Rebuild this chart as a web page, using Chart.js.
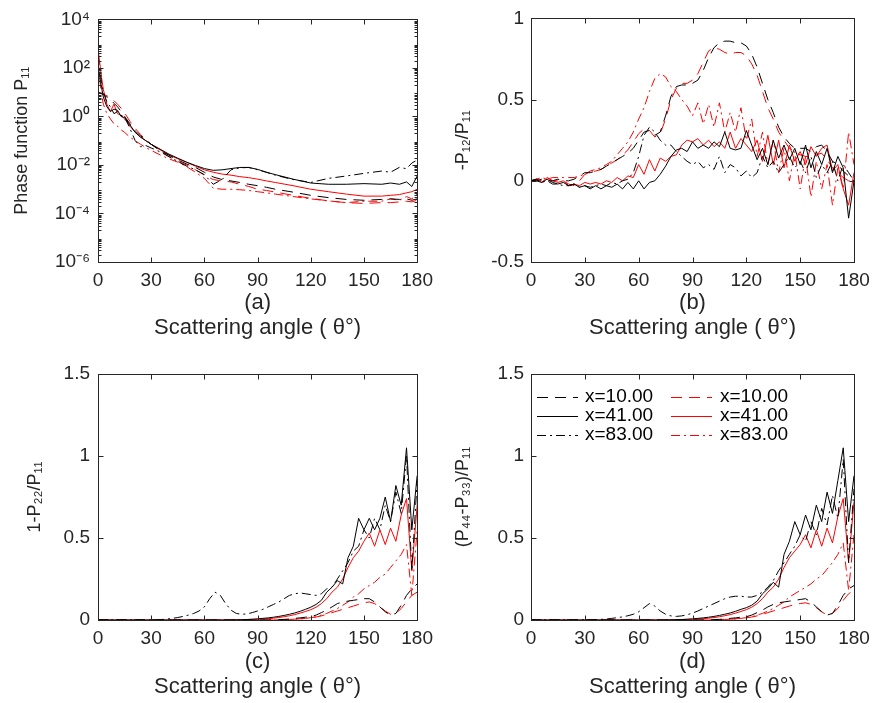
<!DOCTYPE html>
<html>
<head>
<meta charset="utf-8">
<script src="https://cdn.jsdelivr.net/npm/chart.js@4.4.1/dist/chart.umd.min.js"></script>
<style>
  html, body { margin: 0; padding: 0; background: #fff; }
  #wrap { position: relative; width: 878px; height: 703px; }
  canvas { position: absolute; }
</style>
</head>
<body>
<div id="wrap">
  <canvas id="chartA" width="440" height="340" style="left:0;top:0"></canvas>
  <canvas id="chartB" width="438" height="340" style="left:440px;top:0"></canvas>
  <canvas id="chartC" width="440" height="363" style="left:0;top:340px"></canvas>
  <canvas id="chartD" width="438" height="363" style="left:440px;top:340px"></canvas>
</div>
<script>
// ---- data ----
const seriesLabels = ["x=10.00", "x=41.00", "x=83.00"];
const xTicks = [0, 30, 60, 90, 120, 150, 180];
const logTicksA = [1e-6, 1e-4, 1e-2, 1, 1e2, 1e4];
const ticksB = [-0.5, 0, 0.5, 1];
const ticksCD = [0, 0.5, 1, 1.5];

// angles for panel (a)
const anglesA = [0, 1, 2, 3, 5, 7, 9, 11, 13, 15, 18, 21, 24, 27, 30, 35, 40, 45, 50, 55,
  60, 65, 70, 75, 80, 85, 90, 95, 100, 110, 120, 130, 140, 150, 160, 165, 170, 174, 177, 180];
// angles for panels (b), (c), (d)
const angles = [0, 3, 6, 9, 12, 15, 18, 21, 24, 27,
  30, 33, 36, 39, 42, 45, 48, 51, 54, 57,
  60, 63, 66, 69, 72, 75, 78, 81, 84, 87,
  90, 93, 96, 99, 102, 105, 108, 111, 114, 117,
  120, 123, 126, 129, 132, 135, 138, 141, 144, 147,
  150, 153, 156, 159, 162, 165, 168, 171, 174, 177,
  180];

// (a) phase function P11
const aBlack10 = [1.0e1, 9.5, 8.9, 7.9, 6.3, 5.0, 3.5, 2.5, 1.6, 1.0, 5.0e-1, 2.5e-1, 1.6e-1, 1.1e-1, 7.1e-2, 4.0e-2, 2.5e-2, 1.6e-2, 1.1e-2, 7.9e-3,
  5.0e-3, 3.2e-3, 2.5e-3, 2.2e-3, 1.9e-3, 1.6e-3, 1.4e-3, 1.2e-3, 1.0e-3, 7.6e-4, 5.6e-4, 4.5e-4, 3.8e-4, 3.5e-4, 3.8e-4, 4.0e-4, 3.8e-4, 4.0e-4, 3.5e-4, 4.0e-4];
const aBlack41 = [1.3e2, 4.0e1, 1.6e1, 6.3, 2.5, 1.6, 2.0, 1.8, 1.0, 8.9e-1, 4.5e-1, 2.2e-1, 1.4e-1, 1.0e-1, 7.1e-2, 4.5e-2, 2.8e-2, 1.9e-2, 1.3e-2, 9.5e-3,
  7.1e-3, 6.0e-3, 6.3e-3, 7.1e-3, 7.9e-3, 7.9e-3, 6.6e-3, 5.0e-3, 4.0e-3, 2.6e-3, 1.8e-3, 1.6e-3, 1.6e-3, 1.7e-3, 1.6e-3, 1.8e-3, 1.6e-3, 2.0e-3, 1.3e-3, 3.5e-3];
const aBlack83 = [3.2e2, 7.9e1, 2.5e1, 1.0e1, 4.0, 2.5, 1.3, 1.6, 1.1, 1.0, 3.2e-1, 1.0e-1, 5.6e-2, 6.3e-2, 5.0e-2, 3.5e-2, 2.2e-2, 1.4e-2, 8.9e-3, 6.3e-3,
  4.0e-3, 1.6e-3, 2.5e-3, 6.3e-3, 7.6e-3, 7.9e-3, 6.3e-3, 5.0e-3, 3.8e-3, 2.5e-3, 1.9e-3, 2.8e-3, 3.5e-3, 4.5e-3, 5.6e-3, 5.0e-3, 8.0e-3, 7.0e-3, 1.2e-2, 1.6e-2];
const aRed10 = [1.0e1, 9.3, 8.9, 8.3, 7.1, 6.0, 4.5, 3.2, 2.2, 1.4, 6.3e-1, 3.2e-1, 1.8e-1, 1.1e-1, 7.1e-2, 3.8e-2, 2.2e-2, 1.4e-2, 1.0e-2, 6.3e-3,
  3.8e-3, 2.5e-3, 2.2e-3, 2.0e-3, 1.6e-3, 1.3e-3, 1.0e-3, 8.9e-4, 7.6e-4, 5.6e-4, 4.2e-4, 3.3e-4, 2.8e-4, 2.6e-4, 2.8e-4, 2.8e-4, 3.0e-4, 3.2e-4, 3.0e-4, 3.5e-4];
const aRed41 = [6.3e2, 1.6e2, 4.0e1, 1.3e1, 3.2, 1.6, 3.2, 1.3, 1.1, 7.9e-1, 4.0e-1, 2.2e-1, 1.4e-1, 1.0e-1, 7.1e-2, 4.2e-2, 2.6e-2, 1.8e-2, 1.3e-2, 8.9e-3,
  6.3e-3, 5.0e-3, 4.2e-3, 3.8e-3, 3.3e-3, 3.0e-3, 2.6e-3, 2.2e-3, 1.9e-3, 1.4e-3, 1.0e-3, 7.9e-4, 6.3e-4, 5.2e-4, 5.2e-4, 5.6e-4, 6.0e-4, 7.1e-4, 7.9e-4, 1.0e-3];
const aRed83 = [2.0e2, 3.2e1, 7.9, 3.2, 1.3, 7.9e-1, 5.0e-1, 4.0e-1, 2.8e-1, 2.2e-1, 1.4e-1, 1.0e-1, 7.1e-2, 5.2e-2, 4.0e-2, 2.6e-2, 1.8e-2, 1.3e-2, 8.5e-3, 5.0e-3,
  2.8e-3, 1.1e-3, 1.0e-3, 1.0e-3, 9.5e-4, 8.9e-4, 7.9e-4, 7.1e-4, 6.3e-4, 5.0e-4, 4.0e-4, 3.3e-4, 2.8e-4, 3.2e-4, 3.2e-4, 4.0e-4, 3.5e-4, 5.0e-4, 4.0e-4, 6.3e-4];

// (b) -P12/P11
const bBlack10 = [0, 0, 0.01, 0, 0, 0.01, 0, 0, 0.01, 0.03,
  0.05, 0.05, 0.06, 0.07, 0.09, 0.11, 0.13, 0.15, 0.17, 0.2,
  0.25, 0.3, 0.31, 0.28, 0.3, 0.4, 0.52, 0.58, 0.59, 0.59,
  0.6, 0.62, 0.68, 0.76, 0.82, 0.85, 0.86, 0.86, 0.85, 0.85,
  0.83, 0.78, 0.7, 0.6, 0.5, 0.42, 0.33, 0.27, 0.23, 0.2,
  0.2, 0.2, 0.18, 0.21, 0.22, 0.18, 0.12, 0.1, 0.06, 0.03,
  0];
const bBlack41 = [0, 0, -0.01, 0.01, -0.01, -0.02, -0.01, -0.03, -0.02, -0.04,
  -0.03, -0.05, -0.03, -0.05, -0.03, -0.04, -0.02, -0.05, -0.01, -0.05,
  0, -0.05, -0.01, 0, 0.04, 0.09, 0.15, 0.19, 0.2, 0.18,
  0.24, 0.2, 0.22, 0.2, 0.24, 0.21, 0.3, 0.2, 0.19, 0.2,
  0.31, 0.22, 0.13, 0.2, 0.1, 0.25, 0.14, 0.22, 0.13, 0.2,
  0.1, 0.22, 0.08, 0.18, 0.1, 0.2, 0.05, 0.15, 0.08, -0.23,
  0];
const bBlack83 = [0, 0.01, -0.01, 0, -0.02, -0.02, -0.03, -0.03, -0.02, -0.04,
  -0.03, -0.04, -0.03, -0.02, -0.03, -0.01, -0.02, 0, 0.01, 0.05,
  0.15, 0.28, 0.33, 0.3, 0.25, 0.22, 0.22, 0.18, 0.15, 0.12,
  0.1, 0.12, 0.08, 0.1, 0.07, 0.15, 0.05, 0.1, 0.08, 0.03,
  0.06, 0.02, 0.05, 0.15, 0.08, 0.12, 0.05, 0.1, 0.15, 0.08,
  0.12, 0.05, 0.15, 0.02, 0.1, 0.05, 0.12, 0, 0.1, 0.05,
  0];
const bRed10 = [0, 0.01, 0, 0.02, 0, 0, 0, -0.02, -0.03, 0,
  0.04, 0.05, 0.06, 0.07, 0.09, 0.11, 0.13, 0.16, 0.19, 0.24,
  0.29, 0.32, 0.31, 0.27, 0.29, 0.38, 0.5, 0.57, 0.6, 0.6,
  0.62, 0.66, 0.73, 0.8, 0.82, 0.81, 0.79, 0.78, 0.79, 0.79,
  0.77, 0.72, 0.65, 0.55, 0.45, 0.38, 0.3, 0.25, 0.2, 0.18,
  0.16, 0.15, 0.15, 0.16, 0.17, 0.13, 0.08, 0.05, 0.02, 0,
  0];
const bRed41 = [0, 0.01, -0.01, 0.02, 0, -0.01, 0, -0.03, -0.02, -0.03,
  -0.01, -0.02, -0.01, -0.02, 0, -0.01, 0.02, 0, 0.03, 0.02,
  0.1, 0.04, 0.13, 0.06, 0.14, 0.12, 0.15, 0.16, 0.22, 0.25,
  0.24, 0.26, 0.22, 0.25, 0.21, 0.24, 0.2, 0.3, 0.2, 0.26,
  0.22, 0.18, 0.25, 0.12, 0.28, 0.1, 0.25, 0.08, 0.22, 0.12,
  0.18, 0.1, 0.21, 0.15, 0.2, 0.22, 0.06, 0.1, -0.05, -0.15,
  0.05];
const bRed83 = [0, 0.01, 0.02, 0.01, 0.02, 0.02, 0.02, 0.02, 0.02, 0.03,
  0.04, 0.06, 0.07, 0.08, 0.1, 0.12, 0.16, 0.2, 0.24, 0.3,
  0.38, 0.45, 0.55, 0.63, 0.66, 0.64, 0.58, 0.55, 0.5, 0.46,
  0.4, 0.48, 0.35, 0.47, 0.33, 0.48, 0.3, 0.42, 0.3, 0.45,
  0.25, 0.38, 0.15, 0.3, 0.1, 0.25, 0.05, 0.2, 0, 0.18,
  -0.05, 0.15, -0.1, 0.12, -0.05, 0.1, -0.15, 0.08, -0.05, 0.3,
  0.1];

// (c) 1-P22/P11
const cBlack10 = [0, 0, 0, 0, 0, 0, 0, 0, 0, 0,
  0, 0, 0, 0, 0, 0, 0, 0, 0, 0,
  0, 0, 0, 0, 0, 0, 0, 0, 0, 0,
  0, 0, 0, 0, 0.002, 0.004, 0.006, 0.01, 0.013, 0.017,
  0.022, 0.03, 0.045, 0.06, 0.08, 0.1, 0.11, 0.115, 0.12, 0.125,
  0.13, 0.13, 0.11, 0.08, 0.05, 0.03, 0.04, 0.09, 0.15, 0.19,
  0.22];
const cBlack41 = [0, 0, 0, 0, 0, 0, 0, 0, 0, 0,
  0, 0, 0, 0, 0, 0, 0, 0, 0, 0,
  0, 0, 0, 0, 0, 0, 0.001, 0.002, 0.003, 0.005,
  0.007, 0.01, 0.013, 0.017, 0.022, 0.028, 0.035, 0.043, 0.053, 0.065,
  0.078, 0.095, 0.12, 0.17, 0.2, 0.24, 0.22, 0.38, 0.45, 0.62,
  0.55, 0.62, 0.55, 0.62, 0.75, 0.6, 0.82, 0.7, 1.05, 0.55,
  0.88];
const cBlack83 = [0, 0, 0, 0, 0, 0, 0, 0, 0, 0,
  0, 0, 0.003, 0.006, 0.01, 0.015, 0.022, 0.03, 0.04, 0.055,
  0.08, 0.13, 0.17, 0.15, 0.1, 0.06, 0.04, 0.035, 0.037, 0.045,
  0.055, 0.065, 0.08, 0.095, 0.11, 0.13, 0.15, 0.16, 0.165, 0.16,
  0.155, 0.15, 0.16, 0.19, 0.2, 0.25, 0.3, 0.35, 0.42, 0.45,
  0.55, 0.5, 0.62, 0.55, 0.7, 0.6, 0.78, 0.65, 1.0, 0.3,
  0.85];
const cRed10 = [0, 0, 0, 0, 0, 0, 0, 0, 0, 0,
  0, 0, 0, 0, 0, 0, 0, 0, 0, 0,
  0, 0, 0, 0, 0, 0, 0, 0, 0, 0,
  0, 0, 0, 0, 0.001, 0.002, 0.003, 0.005, 0.007, 0.01,
  0.013, 0.018, 0.025, 0.035, 0.045, 0.055, 0.065, 0.075, 0.085, 0.095,
  0.105, 0.11, 0.1, 0.08, 0.055, 0.035, 0.04, 0.07, 0.11, 0.15,
  0.17];
const cRed41 = [0, 0, 0, 0, 0, 0, 0, 0, 0, 0,
  0, 0, 0, 0, 0, 0, 0, 0, 0, 0,
  0, 0, 0, 0, 0, 0, 0.001, 0.0015, 0.002, 0.003,
  0.004, 0.006, 0.008, 0.011, 0.015, 0.02, 0.026, 0.033, 0.042, 0.052,
  0.063, 0.078, 0.1, 0.13, 0.17, 0.2, 0.25, 0.32, 0.38, 0.42,
  0.48, 0.53, 0.45, 0.55, 0.46, 0.56, 0.48, 0.64, 0.74, 0.3,
  0.7];
const cRed83 = [0, 0, 0, 0, 0, 0, 0, 0, 0, 0,
  0, 0, 0, 0, 0, 0, 0, 0, 0, 0,
  0, 0, 0, 0, 0, 0, 0, 0, 0, 0,
  0, 0, 0, 0, 0.001, 0.002, 0.003, 0.005, 0.007, 0.01,
  0.014, 0.02, 0.03, 0.04, 0.055, 0.07, 0.09, 0.11, 0.14, 0.16,
  0.19, 0.21, 0.23, 0.26, 0.28, 0.32, 0.36, 0.4, 0.46, 0.15,
  0.55];

// (d) (P44-P33)/P11
const dBlack10 = [0, 0, 0, 0, 0, 0, 0, 0, 0, 0,
  0, 0, 0, 0, 0, 0, 0, 0, 0, 0,
  0, 0, 0, 0, 0, 0, 0, 0, 0, 0,
  0, 0, 0, 0, 0.002, 0.004, 0.006, 0.01, 0.013, 0.017,
  0.02, 0.03, 0.045, 0.06, 0.08, 0.095, 0.105, 0.11, 0.115, 0.12,
  0.125, 0.13, 0.11, 0.08, 0.05, 0.03, 0.04, 0.09, 0.15, 0.19,
  0.21];
const dBlack41 = [0, 0, 0, 0, 0, 0, 0, 0, 0, 0,
  0, 0, 0, 0, 0, 0, 0, 0, 0, 0,
  0, 0, 0, 0, 0, 0, 0.001, 0.002, 0.003, 0.005,
  0.007, 0.01, 0.013, 0.017, 0.022, 0.028, 0.035, 0.043, 0.053, 0.065,
  0.075, 0.09, 0.115, 0.16, 0.19, 0.23, 0.2, 0.4, 0.48, 0.6,
  0.52, 0.64, 0.55, 0.7, 0.6, 0.78, 0.65, 0.85, 1.05, 0.6,
  0.88];
const dBlack83 = [0, 0, 0, 0, 0, 0, 0, 0, 0, 0,
  0, 0, 0.002, 0.004, 0.006, 0.01, 0.014, 0.019, 0.026, 0.035,
  0.05, 0.075, 0.1, 0.085, 0.055, 0.035, 0.025, 0.022, 0.025, 0.032,
  0.042, 0.055, 0.07, 0.085, 0.1, 0.115, 0.13, 0.14, 0.145, 0.145,
  0.14, 0.14, 0.15, 0.17, 0.2, 0.24, 0.3, 0.35, 0.4, 0.45,
  0.52, 0.48, 0.6, 0.52, 0.68, 0.58, 0.76, 0.62, 0.98, 0.35,
  0.8];
const dRed10 = [0, 0, 0, 0, 0, 0, 0, 0, 0, 0,
  0, 0, 0, 0, 0, 0, 0, 0, 0, 0,
  0, 0, 0, 0, 0, 0, 0, 0, 0, 0,
  0, 0, 0, 0, 0.001, 0.002, 0.003, 0.005, 0.007, 0.01,
  0.013, 0.018, 0.025, 0.035, 0.045, 0.055, 0.065, 0.075, 0.085, 0.095,
  0.1, 0.105, 0.095, 0.075, 0.05, 0.03, 0.04, 0.07, 0.12, 0.16,
  0.18];
const dRed41 = [0, 0, 0, 0, 0, 0, 0, 0, 0, 0,
  0, 0, 0, 0, 0, 0, 0, 0, 0, 0,
  0, 0, 0, 0, 0, 0, 0.001, 0.0015, 0.002, 0.003,
  0.004, 0.006, 0.008, 0.011, 0.015, 0.02, 0.026, 0.033, 0.042, 0.052,
  0.063, 0.078, 0.1, 0.13, 0.17, 0.2, 0.25, 0.32, 0.38, 0.42,
  0.46, 0.52, 0.44, 0.55, 0.45, 0.56, 0.47, 0.63, 0.74, 0.35,
  0.72];
const dRed83 = [0, 0, 0, 0, 0, 0, 0, 0, 0, 0,
  0, 0, 0, 0, 0, 0, 0, 0, 0, 0,
  0, 0, 0, 0, 0, 0, 0, 0, 0, 0,
  0, 0, 0, 0, 0.001, 0.002, 0.003, 0.005, 0.007, 0.01,
  0.014, 0.02, 0.03, 0.04, 0.055, 0.07, 0.09, 0.11, 0.14, 0.16,
  0.18, 0.2, 0.22, 0.25, 0.27, 0.31, 0.35, 0.4, 0.47, 0.18,
  0.52];

// ---- styling ----
const FONT = "'Liberation Sans', Arial, sans-serif";
const TEXT = "#262626";
const lineColors = ["#000000", "#ff0000"];
const dashes = [[11, 7], [], [9, 4, 2, 4]];
const xTitle = (tag) => [tag, "Scattering angle ( θ°)"];
const supMap = { "-": "⁻", "0": "⁰", "1": "¹", "2": "²", "3": "³", "4": "⁴", "5": "⁵", "6": "⁶", "7": "⁷", "8": "⁸", "9": "⁹" };

function makeSets(xs, arrs) {
    return arrs.map((arr, k) => ({
        label: seriesLabels[k % 3],
        data: xs.map((t, i) => ({ x: t, y: arr[i] })),
        borderColor: lineColors[Math.floor(k / 3)],
        borderDash: dashes[k % 3],
        borderWidth: 1,
        pointRadius: 0,
        fill: false,
        tension: 0
    }));
}

// box + inward ticks, MATLAB style
const framePlugin = {
    id: "frame",
    afterDatasetsDraw(chart) {
        const { ctx, chartArea: a, scales } = chart;
        const L = Math.round(a.left) + 0.5, R = Math.round(a.right) + 0.5;
        const T = Math.round(a.top) + 0.5, B = Math.round(a.bottom) + 0.5;
        ctx.save();
        ctx.strokeStyle = TEXT;
        ctx.lineWidth = 1;
        ctx.setLineDash([]);
        ctx.strokeRect(L, T, R - L, B - T);
        ctx.beginPath();
        scales.x.ticks.forEach(t => {
            const px = Math.round(scales.x.getPixelForValue(t.value)) + 0.5;
            ctx.moveTo(px, B); ctx.lineTo(px, B - 5);
            ctx.moveTo(px, T); ctx.lineTo(px, T + 5);
        });
        scales.y.ticks.forEach(t => {
            const py = Math.round(scales.y.getPixelForValue(t.value)) + 0.5;
            ctx.moveTo(L, py); ctx.lineTo(L + 5, py);
            ctx.moveTo(R, py); ctx.lineTo(R - 5, py);
        });
        if (scales.y.type === "logarithmic") {
            for (let e = -6; e < 4; e++) {
                for (let m = 2; m < 10; m++) {
                    const py = Math.round(scales.y.getPixelForValue(m * Math.pow(10, e))) + 0.5;
                    ctx.moveTo(L, py); ctx.lineTo(L + 3, py);
                    ctx.moveTo(R, py); ctx.lineTo(R - 3, py);
                }
            }
        }
        ctx.stroke();
        ctx.restore();
    }
};

// two-column legend inside panel (d)
const legendPlugin = {
    id: "innerLegend",
    afterDraw(chart) {
        const ctx = chart.ctx;
        const colX = [97, 231], textX = [145, 280], rowY = [57, 76, 95];
        ctx.save();
        ctx.font = "19px " + FONT;
        ctx.textBaseline = "middle";
        chart.data.datasets.forEach((ds, k) => {
            const c = Math.floor(k / 3), r = k % 3;
            ctx.strokeStyle = lineColors[c];
            ctx.lineWidth = 1;
            ctx.setLineDash(ds.borderDash);
            ctx.beginPath();
            ctx.moveTo(colX[c], rowY[r] + 0.5);
            ctx.lineTo(colX[c] + 41, rowY[r] + 0.5);
            ctx.stroke();
            ctx.fillStyle = "#000";
            ctx.fillText(ds.label, textX[c], rowY[r]);
        });
        ctx.restore();
    }
};

function makeChart(id, xs, arrs, g, extraPlugins) {
    const yScale = {
        type: g.log ? "logarithmic" : "linear",
        min: g.min, max: g.max,
        afterBuildTicks: s => { s.ticks = g.ticks.map(v => ({ value: v })); },
        afterFit: s => { s.width = g.yWidth; },
        grid: { display: false, drawTicks: false },
        border: { display: false },
        ticks: {
            color: TEXT, padding: g.yPad, font: { family: FONT, size: 19 },
            callback: g.log
                ? v => "10" + String(Math.round(Math.log10(v))).split("").map(ch => supMap[ch]).join("")
                : v => String(v)
        },
        title: {
            display: true, text: g.yTitle, color: TEXT,
            font: { family: FONT, size: 18 }, padding: { top: g.yTitlePad, bottom: 0 }
        }
    };
    return new Chart(document.getElementById(id), {
        type: "line",
        data: { datasets: makeSets(xs, arrs) },
        options: {
            responsive: false,
            devicePixelRatio: 1,
            animation: false,
            events: [],
            layout: { padding: g.pad },
            plugins: { legend: { display: false }, tooltip: { enabled: false } },
            scales: {
                x: {
                    type: "linear", min: 0, max: 180,
                    afterBuildTicks: s => { s.ticks = xTicks.map(v => ({ value: v })); },
                    afterFit: s => { s.height = g.xHeight; },
                    grid: { display: false, drawTicks: false },
                    border: { display: false },
                    ticks: { color: TEXT, padding: 7, maxRotation: 0, font: { family: FONT, size: 19 } },
                    title: {
                        display: true, text: xTitle(g.tag), color: TEXT,
                        font: { family: FONT, size: 22, lineHeight: 1.136 }, padding: { top: 0, bottom: 0 }
                    }
                },
                y: yScale
            }
        },
        plugins: [framePlugin].concat(extraPlugins || [])
    });
}

makeChart("chartA", anglesA, [aBlack10, aBlack41, aBlack83, aRed10, aRed41, aRed83], {
    log: true, min: 1e-6, max: 1e4, ticks: logTicksA, tag: "(a)",
    yTitle: "Phase function P₁₁", yTitlePad: 11, yWidth: 98, yPad: 8, xHeight: 78,
    pad: { top: 15, right: 18, bottom: 0, left: 0 }
});
makeChart("chartB", angles, [bBlack10, bBlack41, bBlack83, bRed10, bRed41, bRed83], {
    log: false, min: -0.5, max: 1, ticks: ticksB, tag: "(b)",
    yTitle: "-P₁₂/P₁₁", yTitlePad: 12, yWidth: 91, yPad: 7, xHeight: 78,
    pad: { top: 15, right: 24, bottom: 0, left: 0 }
});
makeChart("chartC", angles, [cBlack10, cBlack41, cBlack83, cRed10, cRed41, cRed83], {
    log: false, min: 0, max: 1.5, ticks: ticksCD, tag: "(c)",
    yTitle: "1-P₂₂/P₁₁", yTitlePad: 24, yWidth: 98, yPad: 8, xHeight: 79,
    pad: { top: 34, right: 18, bottom: 4, left: 0 }
});
makeChart("chartD", angles, [dBlack10, dBlack41, dBlack83, dRed10, dRed41, dRed83], {
    log: false, min: 0, max: 1.5, ticks: ticksCD, tag: "(d)",
    yTitle: "(P₄₄-P₃₃)/P₁₁", yTitlePad: 12, yWidth: 91, yPad: 7, xHeight: 79,
    pad: { top: 34, right: 24, bottom: 4, left: 0 }
}, [legendPlugin]);
</script>
</body>
</html>
